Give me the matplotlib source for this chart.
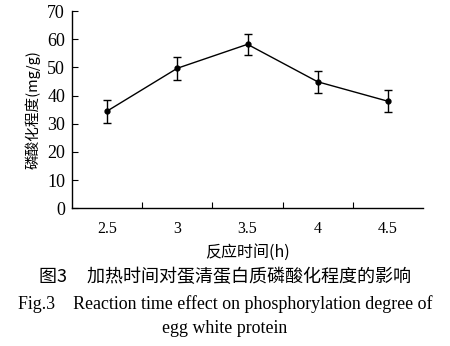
import matplotlib
matplotlib.use('Agg')
import matplotlib.pyplot as plt
import numpy as np

# Datos
tiempos = ['2.5', '3', '3.5', '4', '4.5']
fosforilacion = [34.5, 49.7, 58.2, 44.9, 38.0]
error = [4.1, 4.1, 3.8, 4.0, 4.0]
yticks = [0, 10, 20, 30, 40, 50, 60, 70]

serif = ['Liberation Serif', 'Noto Sans CJK SC']
cjk = ['Noto Sans CJK SC', 'Liberation Serif']

fig = plt.figure(figsize=(4.5, 3.46), dpi=100)
ax = fig.add_axes([0.16, 0.398, 0.78, 0.57])

x = np.arange(len(tiempos))
ax.errorbar(x, fosforilacion, yerr=error, color='black', linewidth=1.0,
            marker='o', markersize=3.5, capsize=3, elinewidth=1.0, capthick=1.0)

ax.set_xlim(-0.5, len(tiempos) - 0.5)
ax.set_ylim(0, 70)
ax.set_yticks(yticks)
ax.set_yticklabels([str(v) for v in yticks], family=serif, fontsize=13)

# ticks del eje x en los limites de cada categoria, etiquetas centradas
ax.set_xticks(x[:-1] + 0.5)
ax.set_xticklabels([])
ax.set_xticks(x, minor=True)
ax.set_xticklabels(tiempos, minor=True, family=serif, fontsize=11.5)
ax.tick_params(axis='x', which='minor', length=0, pad=9)
ax.tick_params(axis='both', which='major', direction='in', length=4, width=0.8)
ax.tick_params(axis='y', pad=5)

for s in ['top', 'right']:
    ax.spines[s].set_visible(False)
for s in ['left', 'bottom']:
    ax.spines[s].set_linewidth(1.0)

ax.set_ylabel('磷酸化程度(mg/g)', family=cjk, fontsize=10.5, labelpad=5)
ax.set_xlabel('反应时间(h)', family=cjk, fontsize=11.5, labelpad=5)

fig.text(0.5, 0.2, '图3     加热时间对蛋清蛋白质磷酸化程度的影响', family=cjk,
         fontsize=13, ha='center', va='center')
fig.text(0.5, 0.12, 'Fig.3    Reaction time effect on phosphorylation degree of',
         family=serif, fontsize=12.9, ha='center', va='center')
fig.text(0.5, 0.05, 'egg white protein', family=serif, fontsize=12.9,
         ha='center', va='center')

fig.savefig('out.png', dpi=100)
